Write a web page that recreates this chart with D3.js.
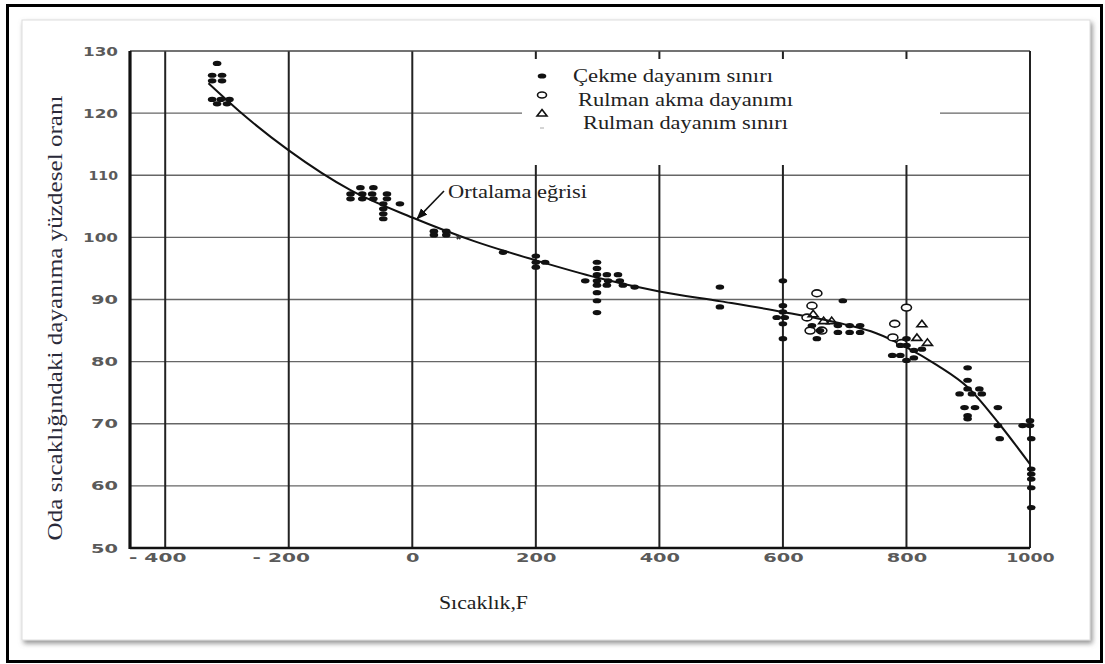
<!DOCTYPE html>
<html>
<head>
<meta charset="utf-8">
<script src="https://cdn.jsdelivr.net/npm/d3@7"></script>
<style>
  body { margin: 0; background: #fff; }
  svg { display: block; }
</style>
</head>
<body>
<div id="chart"></div>
<script>
// mean curve (Ortalama eğrisi)
const curveTemp = [-330, -280, -200, -100, 0, 100, 200, 300, 400, 500, 600, 700, 750, 800, 850, 900, 950, 1000];
const curveVal  = [124.8, 120.3, 114, 107.6, 103.2, 99.4, 96.3, 93.5, 91.3, 89.7, 88, 86, 84.6, 82.3, 79.4, 75.8, 70, 63.5];

// Çekme dayanım sınırı (filled dots)
const tensileTemp = [-316, -324, -308, -324, -308, -324, -310, -296, -316, -300,
  -84, -63, -100, -81, -65, -41, -100, -81, -63, -41, -47, -20, -47, -47, -47,
  35, 55, 35, 55, 147, 200, 200, 215, 200,
  299, 299, 299, 315, 333, 280, 299, 317, 336, 299, 315, 341, 360, 299, 299, 299,
  498, 498,
  600, 600, 600, 590, 603, 600, 600,
  697, 655, 660, 689, 708, 725, 689, 708, 725, 647,
  800, 800, 777, 790, 800, 812, 790, 812, 825,
  899, 899, 886, 906, 922, 899, 918, 894, 911, 899, 899, 948, 948, 951,
  1000, 1000, 988, 1002, 1002, 1002, 1002, 1002, 1002];
const tensileVal = [128, 126.1, 126.1, 125.2, 125.2, 122.2, 122.2, 122.2, 121.5, 121.5,
  108, 108, 107, 107, 107, 107, 106.2, 106.2, 106.2, 106.2, 105.4, 105.4, 104.6, 103.8, 103,
  101, 101, 100.4, 100.4, 97.6, 97, 96, 96, 95.2,
  96, 95, 94, 94, 94, 93, 93, 93, 93, 92.3, 92.3, 92.3, 92, 91.1, 89.8, 87.9,
  92, 88.8,
  93, 89, 88, 87.1, 87.1, 86.1, 83.7,
  89.8, 83.7, 85, 84.7, 84.7, 84.7, 85.8, 85.8, 85.8, 85.8,
  83.7, 82.6, 81, 81, 80.2, 81.8, 82.6, 80.6, 82,
  79, 77, 74.8, 74.8, 74.8, 75.6, 75.6, 72.6, 72.6, 71.3, 70.8, 72.6, 69.7, 67.6,
  70.5, 69.7, 69.7, 67.6, 62.7, 61.9, 61.1, 59.7, 56.5];

// Rulman akma dayanımı (open circles)
const yieldTemp = [655, 647, 639, 644, 663, 800, 781, 778, 792];
const yieldVal  = [91, 89, 87.1, 85, 85, 88.7, 86.1, 83.9, 83];

// Rulman dayanım sınırı (open triangles)
const bearingTemp = [649, 666, 679, 825, 834, 817];
const bearingVal  = [87.7, 86.6, 86.6, 86.1, 83.1, 83.9];

const xTicks = [-400, -200, 0, 200, 400, 600, 800, 1000];
const xTickLabels = ["- 400", "- 200", "0", "200", "400", "600", "800", "1000"];
const yTicks = [50, 60, 70, 80, 90, 100, 110, 120, 130];

const legendLabels = ["Çekme dayanım sınırı", "Rulman akma dayanımı", "Rulman dayanım sınırı"];

const W = 1105, H = 664;
const svg = d3.select("#chart").append("svg").attr("width", W).attr("height", H);

const defs = svg.append("defs");
defs.append("filter").attr("id", "shadow").attr("x", "-5%").attr("y", "-5%").attr("width", "112%").attr("height", "112%")
  .append("feDropShadow").attr("dx", 2).attr("dy", 3).attr("stdDeviation", 2.5).attr("flood-color", "#777").attr("flood-opacity", 0.8);
defs.append("marker").attr("id", "arrow").attr("viewBox", "0 0 10 10").attr("refX", 9).attr("refY", 5)
  .attr("markerWidth", 7).attr("markerHeight", 7).attr("orient", "auto")
  .append("path").attr("d", "M0,1 L10,5 L0,9 Z").attr("fill", "#111");

// frame and panel
svg.append("rect").attr("x", 22).attr("y", 20).attr("width", 1068).attr("height", 620)
  .attr("fill", "#fff").attr("stroke", "#ddd").attr("filter", "url(#shadow)");
svg.append("rect").attr("x", 7.5).attr("y", 5.5).attr("width", 1094).attr("height", 656)
  .attr("fill", "none").attr("stroke", "#000").attr("stroke-width", 3);

const x = d3.scaleLinear().domain([-457, 1000]).range([130, 1030]);
const y = d3.scaleLinear().domain([50, 130]).range([548, 51]);

const g = svg.append("g");

// grid
g.selectAll("line.hgrid").data(yTicks.filter(d => d > 50 && d < 130)).enter().append("line")
  .attr("class", "hgrid")
  .attr("x1", x.range()[0]).attr("x2", x.range()[1])
  .attr("y1", d => y(d)).attr("y2", d => y(d))
  .attr("stroke", "#666").attr("stroke-width", 1.3);
g.selectAll("line.vgrid").data(xTicks.filter(d => d < 1000)).enter().append("line")
  .attr("class", "vgrid")
  .attr("x1", d => x(d)).attr("x2", d => x(d))
  .attr("y1", y(50)).attr("y2", y(130))
  .attr("stroke", "#222").attr("stroke-width", 2);
// top and right border
g.append("line").attr("x1", x(-457)).attr("x2", x(1000)).attr("y1", y(130)).attr("y2", y(130))
  .attr("stroke", "#444").attr("stroke-width", 1.3);
g.append("line").attr("x1", x(1000)).attr("x2", x(1000)).attr("y1", y(130)).attr("y2", y(50))
  .attr("stroke", "#222").attr("stroke-width", 2);

// legend area (blank box over grid)
const leg = svg.append("g");
leg.append("rect").attr("x", 522).attr("y", 59).attr("width", 418).attr("height", 106).attr("fill", "#fff");

// axes
function labelLen(s) {
  let w = 0;
  for (const c of s) w += c === "1" ? 8 : c === "-" ? 8 : c === " " ? 9 : 13.5;
  return w;
}
const xAxis = g.append("g").attr("transform", `translate(0,${y(50)})`)
  .call(d3.axisBottom(x).tickValues(xTicks).tickFormat((d, i) => xTickLabels[i]).tickSize(0).tickPadding(5));
const yAxis = g.append("g").attr("transform", `translate(${x(-457)},0)`)
  .call(d3.axisLeft(y).tickValues(yTicks).tickSize(0).tickPadding(12));
[xAxis, yAxis].forEach(a => {
  a.select(".domain").remove();
  a.selectAll("text")
    .attr("font-family", "DejaVu Sans")
    .attr("font-size", 12.5)
    .attr("font-weight", "bold")
    .attr("fill", "#5a5a5a")
    .attr("textLength", function () { return labelLen(this.textContent); })
    .attr("lengthAdjust", "spacingAndGlyphs");
});
xAxis.selectAll("text").attr("dx", d => d < 0 ? -8 : 0);

g.append("line").attr("x1", x(-457)).attr("x2", x(1000)).attr("y1", y(50)).attr("y2", y(50))
  .attr("stroke", "#111").attr("stroke-width", 2.5);
g.append("line").attr("x1", x(-457)).attr("x2", x(-457)).attr("y1", y(50) + 1).attr("y2", y(130))
  .attr("stroke", "#111").attr("stroke-width", 3.2);

// mean curve
const curveData = curveTemp.map((t, i) => [t, curveVal[i]]);
g.append("path").datum(curveData)
  .attr("d", d3.line().x(d => x(d[0])).y(d => y(d[1])).curve(d3.curveMonotoneX))
  .attr("fill", "none").attr("stroke", "#111").attr("stroke-width", 2);

// points
const tensile = tensileTemp.map((t, i) => [t, tensileVal[i]]);
const yieldPts = yieldTemp.map((t, i) => [t, yieldVal[i]]);
const bearing = bearingTemp.map((t, i) => [t, bearingVal[i]]);
const triPath = "M0,-3.5 L5,3 L-5,3 Z";

g.selectAll("ellipse.yield").data(yieldPts).enter().append("ellipse")
  .attr("cx", d => x(d[0])).attr("cy", d => y(d[1]))
  .attr("rx", 5).attr("ry", 3.4)
  .attr("fill", "#fff").attr("stroke", "#111").attr("stroke-width", 1.6);
g.selectAll("path.bearing").data(bearing).enter().append("path")
  .attr("transform", d => `translate(${x(d[0])},${y(d[1])})`)
  .attr("d", triPath)
  .attr("fill", "none").attr("stroke", "#111").attr("stroke-width", 1.6);
g.selectAll("ellipse.tensile").data(tensile).enter().append("ellipse")
  .attr("cx", d => x(d[0])).attr("cy", d => y(d[1]))
  .attr("rx", 4.3).attr("ry", 2.6)
  .attr("fill", "#111");
// small cross on the curve
g.append("path").attr("transform", `translate(${x(75)},${y(100)}) rotate(45)`)
  .attr("d", d3.symbol(d3.symbolCross, 14)())
  .attr("fill", "#333");

// legend
const legY = [76, 95, 113];
leg.append("ellipse").attr("cx", 542).attr("cy", legY[0]).attr("rx", 4.3).attr("ry", 2.6).attr("fill", "#111");
leg.append("ellipse").attr("cx", 542).attr("cy", legY[1]).attr("rx", 4.5).attr("ry", 3).attr("fill", "#fff").attr("stroke", "#111").attr("stroke-width", 1.6);
leg.append("path").attr("transform", `translate(542,${legY[2]})`).attr("d", triPath).attr("fill", "none").attr("stroke", "#111").attr("stroke-width", 1.6);
leg.append("line").attr("x1", 540).attr("x2", 544).attr("y1", 128).attr("y2", 128).attr("stroke", "#aaa");
const legTx = [573, 578, 583], legBase = [82, 106, 129], legLen = [200, 215, 205];
leg.selectAll("text").data(legendLabels).enter().append("text")
  .attr("x", (d, i) => legTx[i]).attr("y", (d, i) => legBase[i])
  .attr("font-family", "Liberation Serif").attr("font-size", 19).attr("fill", "#222")
  .attr("textLength", (d, i) => legLen[i]).attr("lengthAdjust", "spacingAndGlyphs")
  .text(d => d);

// annotation
g.append("line").attr("x1", 444).attr("y1", 191).attr("x2", x(8)).attr("y2", y(102.7) - 2)
  .attr("stroke", "#111").attr("stroke-width", 1.6).attr("marker-end", "url(#arrow)");
g.append("text").attr("x", 448).attr("y", 198)
  .attr("font-family", "Liberation Serif").attr("font-size", 19).attr("fill", "#222")
  .attr("textLength", 139).attr("lengthAdjust", "spacingAndGlyphs")
  .text("Ortalama eğrisi");

// axis titles
svg.append("text").attr("x", 439).attr("y", 609)
  .attr("font-family", "Liberation Serif").attr("font-size", 19).attr("fill", "#222")
  .attr("textLength", 89).attr("lengthAdjust", "spacingAndGlyphs")
  .text("Sıcaklık,F");
svg.append("text").attr("transform", "translate(62,318) rotate(-90)")
  .attr("text-anchor", "middle")
  .attr("font-family", "Liberation Serif").attr("font-size", 21).attr("fill", "#2a2a3a")
  .attr("textLength", 445).attr("lengthAdjust", "spacingAndGlyphs")
  .text("Oda sıcaklığındaki dayanıma yüzdesel oranı");
</script>
</body>
</html>
